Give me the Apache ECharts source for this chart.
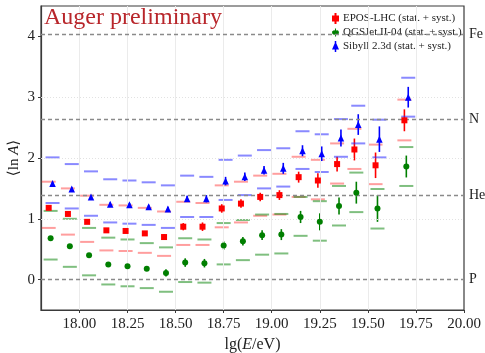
<!DOCTYPE html>
<html>
<head>
<meta charset="utf-8">
<script src="https://cdn.jsdelivr.net/npm/echarts@6/dist/echarts.min.js"></script>
<style>
  html, body { margin: 0; padding: 0; background: #fff; }
  #chart { width: 485px; height: 353px; }
</style>
</head>
<body>
<div id="chart"></div>
<script>
// Mean logarithmic mass <ln A> versus energy for three hadronic interaction models.
const energies = [17.85, 17.95, 18.05, 18.15, 18.25, 18.35, 18.45, 18.55, 18.65, 18.75,
                  18.85, 18.95, 19.05, 19.15, 19.25, 19.35, 19.44, 19.55, 19.70];

const eposMean  = [1.18, 1.08, 0.95, 0.81, 0.80, 0.76, 0.70, 0.87, 0.87, 1.17, 1.25, 1.36, 1.39, 1.685, 1.63, 1.90, 2.14, 1.88, 2.62];
const eposStat  = [0.03, 0.03, 0.03, 0.03, 0.03, 0.03, 0.05, 0.06, 0.07, 0.07, 0.07, 0.07, 0.08, 0.09, 0.12, 0.12, 0.18, 0.21, 0.18];
const eposSysLo = [0.85, 0.74, 0.62, 0.48, 0.47, 0.44, 0.39, 0.57, 0.57, 0.86, 0.94, 1.05, 1.07, 1.36, 1.32, 1.58, 1.82, 1.57, 2.29];
const eposSysHi = [1.61, 1.50, 1.38, 1.23, 1.22, 1.18, 1.12, 1.28, 1.26, 1.55, 1.61, 1.71, 1.74, 2.02, 1.97, 2.24, 2.48, 2.22, 2.96];

const qgsMean  = [0.68, 0.55, 0.40, 0.25, 0.22, 0.18, 0.11, 0.28, 0.27, 0.56, 0.63, 0.73, 0.74, 1.03, 0.95, 1.21, 1.43, 1.17, 1.86];
const qgsStat  = [0.03, 0.03, 0.03, 0.03, 0.03, 0.03, 0.06, 0.07, 0.07, 0.07, 0.07, 0.08, 0.09, 0.10, 0.14, 0.14, 0.18, 0.22, 0.18];
const qgsSysLo = [0.33, 0.21, 0.07, -0.08, -0.11, -0.14, -0.20, -0.04, -0.05, 0.25, 0.32, 0.41, 0.43, 0.72, 0.64, 0.89, 1.11, 0.84, 1.54];
const qgsSysHi = [1.13, 1.00, 0.85, 0.69, 0.66, 0.60, 0.53, 0.68, 0.66, 0.93, 0.98, 1.07, 1.08, 1.36, 1.29, 1.54, 1.76, 1.49, 2.18];

const sibMean  = [1.58, 1.49, 1.36, 1.24, 1.23, 1.20, 1.16, 1.33, 1.33, 1.62, 1.69, 1.80, 1.83, 2.12, 2.07, 2.33, 2.55, 2.31, 3.00];
const sibStat  = [0.03, 0.03, 0.03, 0.03, 0.03, 0.03, 0.04, 0.05, 0.06, 0.07, 0.07, 0.07, 0.09, 0.09, 0.12, 0.14, 0.17, 0.21, 0.17];
const sibSysLo = [1.26, 1.17, 1.05, 0.94, 0.92, 0.90, 0.85, 1.03, 1.03, 1.31, 1.39, 1.50, 1.53, 1.82, 1.77, 2.02, 2.24, 2.01, 2.68];
const sibSysHi = [2.01, 1.90, 1.78, 1.65, 1.63, 1.60, 1.55, 1.71, 1.69, 1.97, 2.04, 2.13, 2.16, 2.44, 2.39, 2.64, 2.86, 2.63, 3.32];

// Reference <ln A> values of pure compositions
const elementNames = ['Fe', 'N', 'He', 'P'];
const elementLnA   = [4.025, 2.639, 1.386, 0];

const xTicks = [18.00, 18.25, 18.50, 18.75, 19.00, 19.25, 19.50, 19.75, 20.00];
const yTicks = [0, 1, 2, 3, 4];

const modelNames = ['EPOS-LHC (stat. + syst.)', 'QGSJet II-04 (stat. + syst.)', 'Sibyll 2.3d (stat. + syst.)'];

const SERIF = '"Liberation Serif", "DejaVu Serif", serif';

function rows(dx, mean, stat, lo, hi) {
  return energies.map((e, i) => [e + dx, mean[i], stat[i], lo[i], hi[i]]);
}

function barSeries(data, color, sysColor) {
  return {
    type: 'custom',
    name: '',
    silent: true,
    z: 3,
    data: data,
    encode: { x: 0, y: 1 },
    renderItem: function (params, api) {
      const x = api.value(0), m = api.value(1), e = api.value(2);
      const lo = api.value(3), hi = api.value(4);
      const top = api.coord([x, m + e]);
      const bot = api.coord([x, m - e]);
      const pl = api.coord([x, lo]);
      const ph = api.coord([x, hi]);
      const hw = 7;
      return {
        type: 'group',
        children: [
          { type: 'line', shape: { x1: pl[0] - hw, y1: pl[1], x2: pl[0] + hw, y2: pl[1] }, style: { stroke: sysColor, lineWidth: 2 } },
          { type: 'line', shape: { x1: ph[0] - hw, y1: ph[1], x2: ph[0] + hw, y2: ph[1] }, style: { stroke: sysColor, lineWidth: 2 } },
          { type: 'line', shape: { x1: top[0], y1: top[1], x2: bot[0], y2: bot[1] }, style: { stroke: color, lineWidth: 1.6 } }
        ]
      };
    }
  };
}

function pointSeries(name, data, symbol, size, color) {
  return {
    type: 'scatter',
    name: name,
    symbol: symbol,
    symbolSize: size,
    z: 5,
    itemStyle: { color: color, opacity: 1 },
    data: data.map(r => [r[0], r[1]])
  };
}

const eposRows = rows(-0.01, eposMean, eposStat, eposSysLo, eposSysHi);
const qgsRows  = rows(0, qgsMean, qgsStat, qgsSysLo, qgsSysHi);
const sibRows  = rows(0.01, sibMean, sibStat, sibSysLo, sibSysHi);

const chart = echarts.init(document.getElementById('chart'), null, { renderer: 'canvas' });

chart.setOption({
  animation: false,
  backgroundColor: '#fff',
  title: {
    text: 'Auger preliminary',
    left: 39, top: 1,
    textStyle: { fontFamily: SERIF, fontSize: 24, fontWeight: 'normal', color: '#b8262b' }
  },
  legend: {
    orient: 'vertical',
    left: 327, top: 8,
    itemWidth: 7, itemHeight: 11, itemGap: 3,
    textStyle: { fontFamily: SERIF, fontSize: 11, color: '#222', padding: [0, 0, 0, -1] },
    data: [
      { name: modelNames[0], icon: 'path://M2.5,0H4.5V2.5H7V8.5H4.5V11H2.5V8.5H0V2.5H2.5Z' },
      { name: modelNames[1], icon: 'path://M2.75,0H4.25V2.6A3.1,3.1,0,1,1,4.25,8.4V11H2.75V8.4A3.1,3.1,0,1,1,2.75,2.6Z' },
      { name: modelNames[2], icon: 'path://M2.75,0H4.25V2.2L7,8.5H4.25V11H2.75V8.5H0L2.75,2.2Z' }
    ]
  },
  grid: {
    left: 41, right: 21, top: 6, bottom: 43,
    outerBoundsMode: 'none', containLabel: false,
    show: true, borderColor: '#3a3a3a', borderWidth: 1.2, backgroundColor: 'transparent'
  },
  xAxis: {
    type: 'value',
    min: 17.8, max: 20.0,
    name: '{n|lg(}{i|E}{n|/eV)}',
    nameLocation: 'middle', nameGap: 27, nameMoveOverlap: false,
    nameTextStyle: {
      rich: {
        n: { fontFamily: SERIF, fontSize: 16, color: '#222' },
        i: { fontFamily: SERIF, fontSize: 16, fontStyle: 'italic', color: '#222' }
      }
    },
    axisLine: { onZero: false, lineStyle: { color: '#3a3a3a', width: 1.2 } },
    axisTick: { show: true, length: 3, customValues: xTicks, lineStyle: { color: '#3a3a3a' } },
    axisLabel: {
      customValues: xTicks, margin: 7,
      fontFamily: SERIF, fontSize: 15, color: '#222',
      formatter: v => v.toFixed(2)
    },
    splitLine: { show: false }
  },
  yAxis: {
    type: 'value',
    min: -0.5, max: 4.5,
    name: '{n|⟨ln }{i|A}{n|⟩}',
    nameLocation: 'middle', nameGap: 19, nameRotate: 90, nameMoveOverlap: false,
    nameTextStyle: {
      rich: {
        n: { fontFamily: SERIF, fontSize: 15, color: '#222' },
        i: { fontFamily: SERIF, fontSize: 15, fontStyle: 'italic', color: '#222' }
      }
    },
    axisLine: { onZero: false, lineStyle: { color: '#3a3a3a', width: 1.2 } },
    axisTick: { show: true, length: 3, customValues: yTicks, lineStyle: { color: '#3a3a3a' } },
    axisLabel: { customValues: yTicks, margin: 6, fontFamily: SERIF, fontSize: 15, color: '#222' },
    splitLine: { show: false }
  },
  series: [
    {
      // faint grid
      type: 'line', name: '', data: [], silent: true, z: 1,
      markLine: {
        silent: true, symbol: 'none', animation: false,
        label: { show: false },
        data: [
          ...xTicks.slice(0, -1).map(v => ({ xAxis: v, lineStyle: { color: '#ebebeb', width: 1, type: 'solid' } })),
          ...yTicks.slice(1, -1).map(v => ({ yAxis: v, lineStyle: { color: '#e2e2e2', width: 1, type: [1, 2] } }))
        ]
      }
    },
    {
      // pure-composition reference levels
      type: 'line', name: '', data: [], silent: true, z: 2,
      markLine: {
        silent: true, symbol: 'none', animation: false,
        lineStyle: { color: '#8a8a8a', width: 1.3, type: [4, 3] },
        label: {
          show: true, position: 'end', distance: 5, formatter: '{b}',
          fontFamily: SERIF, fontSize: 14, color: '#222'
        },
        data: elementNames.map((n, i) => ({ name: n, yAxis: elementLnA[i] }))
      }
    },
    barSeries(eposRows, '#ff0000', 'rgba(255,40,40,0.45)'),
    barSeries(qgsRows, '#007f00', 'rgba(0,128,0,0.5)'),
    barSeries(sibRows, '#0000ff', 'rgba(40,40,255,0.55)'),
    pointSeries(modelNames[0], eposRows, 'rect', 6, '#ff0000'),
    pointSeries(modelNames[1], qgsRows, 'circle', 6, '#007f00'),
    pointSeries(modelNames[2], sibRows, 'triangle', [6.5, 7], '#0000ff')
  ]
});
</script>
</body>
</html>
